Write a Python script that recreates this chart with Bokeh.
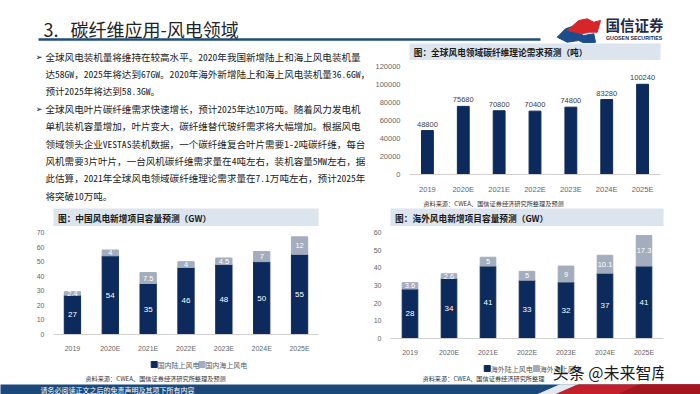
from bokeh.plotting import figure
from bokeh.models import (Range1d, FactorRange, ColumnDataSource, FixedTicker,
                          NumeralTickFormatter)
from bokeh.layouts import column, row
from bokeh.embed import file_html
from bokeh.resources import INLINE
from bokeh.core.properties import value

CJK = "Noto Sans CJK SC"
MONO_CJK = "'Noto Sans Mono CJK SC', 'Noto Sans CJK SC'"
LAT = "Liberation Sans"
NAVY = "#0C2A5B"
LIGHT = "#A3ADBD"
BAND = "#DCE4EE"
AXC = "#666666"

# ---------------- data ----------------
years = ["2019", "2020E", "2021E", "2022E", "2023E", "2024E", "2025E"]
cf_demand = [48800, 75680, 70800, 70400, 74800, 83280, 100240]
cn_onshore = [27, 54, 35, 46, 48, 50, 55]
cn_offshore = [2.4, 4, 7.5, 4, 4.5, 7, 12]
os_onshore = [28, 34, 41, 33, 32, 37, 41]
os_offshore = [3.6, 2.6, 5, 5, 9, 10.1, 17.3]
demand_ticks = [0, 20000, 40000, 60000, 80000, 100000, 120000]
cn_ticks = [0, 10, 20, 30, 40, 50, 60, 70]
os_ticks = [0, 10, 20, 30, 40, 50, 60]

slide_title = "3.\u00a0\u00a0\u00a0碳纤维应用-风电领域"
bullet1 = ["全球风电装机量将维持在较高水平。2020年我国新增陆上和海上风电装机量",
           "达58GW，2025年将达到67GW。2020年海外新增陆上和海上风电装机量36.6GW，",
           "预计2025年将达到58.3GW。"]
bullet2 = ["全球风电叶片碳纤维需求快速增长，预计2025年达10万吨。随着风力发电机",
           "单机装机容量增加，叶片变大，碳纤维替代玻纤需求将大幅增加。根据风电",
           "领域领头企业VESTAS装机数据，一个碳纤维复合叶片需要1-2吨碳纤维，每台",
           "风机需要3片叶片，一台风机碳纤维需求量在4吨左右，装机容量5MW左右，据",
           "此估算，2021年全球风电领域碳纤维理论需求量在7.1万吨左右，预计2025年",
           "将突破10万吨。"]
t1 = "图：全球风电领域碳纤维理论需求预测（吨）"
t2 = "图：中国风电新增项目容量预测（GW）"
t3 = "图：海外风电新增项目容量预测（GW）"
src1 = "资料来源：CWEA、国信证券经济研究所整理及预测"
src2 = "资料来源：CWEA、国信证券经济研究所整理及预测"
src3 = "资料来源：CWEA、国信证券经济研究所整理"
leg2 = ["国内陆上风电", "国内海上风电"]
leg3 = ["海外陆上风电", "海外海上风电"]
footer_text = "请务必阅读正文之后的免责声明及其项下所有内容"
logo_cn = "国信证券"
logo_en = "GUOSEN SECURITIES"
watermark = "头条 @未来智库"


def canvas(w, h, bg="white"):
    p = figure(width=w, height=h, x_range=Range1d(0, w), y_range=Range1d(h, 0),
               x_axis_location=None, y_axis_location=None, toolbar_location=None,
               output_backend="svg", min_border=0)
    p.outline_line_color = None
    p.grid.grid_line_color = None
    p.background_fill_color = bg
    p.border_fill_color = bg
    return p


def band(w, h, left, right, top, text):
    fw = w - left - right
    fh = h - top
    p = figure(width=w, height=h, x_range=Range1d(0, fw), y_range=Range1d(fh, 0),
               x_axis_location=None, y_axis_location=None, toolbar_location=None,
               output_backend="svg", min_border=0, min_border_left=left,
               min_border_right=right, min_border_top=top, min_border_bottom=0)
    p.outline_line_color = None
    p.grid.grid_line_color = None
    p.background_fill_color = BAND
    p.border_fill_color = "white"
    p.text(x=[5], y=[fh / 2 + 0.5], text=[text], text_font=value(CJK),
           text_font_size="8.7px", text_font_style="bold", text_color="#1A1A1A",
           text_baseline="middle", text_align="left")
    return p


def bar_fig(w, h, left, right, top, bottom, yend, ticks, fs):
    p = figure(width=w, height=h, x_range=FactorRange(*years, range_padding=0),
               y_range=Range1d(0, yend), toolbar_location=None, output_backend="svg",
               min_border=0, min_border_left=left, min_border_right=right,
               min_border_top=top, min_border_bottom=bottom)
    p.outline_line_color = None
    p.grid.grid_line_color = None
    p.background_fill_color = "white"
    p.border_fill_color = "white"
    xa = p.xaxis[0]
    xa.axis_line_color = "#D0D0D0"
    xa.major_tick_line_color = None
    xa.minor_tick_line_color = None
    xa.major_label_text_font = LAT
    xa.major_label_text_font_size = fs
    xa.major_label_text_color = AXC
    xa.major_label_standoff = 4
    ya = p.yaxis[0]
    ya.axis_line_color = None
    ya.major_tick_line_color = None
    ya.minor_tick_line_color = None
    ya.ticker = FixedTicker(ticks=ticks)
    ya.formatter = NumeralTickFormatter(format="0")
    ya.major_label_text_font = LAT
    ya.major_label_text_font_size = fs
    ya.major_label_text_color = AXC
    ya.major_label_standoff = 3
    return p


# ---------------- header (0-43) ----------------
hdr = canvas(700, 43)
hdr.text(x=[43], y=[28], text=[slide_title], text_font=value(CJK), text_font_size="18px",
         text_color="#222222", text_baseline="middle")
hdr.line(x=[38, 540], y=[39, 39], line_width=2.5, color="#1F4E79")
hdr.patch(x=[556.7, 565, 571.7, 576.7, 583.3, 593.3, 595, 585, 578.3, 566.7],
          y=[36.7, 28.3, 26, 31.7, 35, 33.3, 41.7, 43.3, 40, 41.7], color="#1B4C8C")
hdr.patch(x=[566.7, 578.3, 586.7, 593.3, 600, 596.7, 588.3, 581.7, 575],
          y=[30, 20, 18.3, 21.7, 20, 31.7, 31.7, 33.3, 31.7], color="#D7262B")
hdr.text(x=[605], y=[24], text=[logo_cn], text_font=value(CJK), text_font_size="14.5px",
         text_font_style="bold", text_color="#1E2B4A", text_baseline="middle")
hdr.text(x=[605.5], y=[37], text=[logo_en], text_font=value(LAT), text_font_size="5.3px",
         text_font_style="bold", text_color="#1E2B4A", text_baseline="middle")

# ---------------- paragraph (43-208) ----------------
txt = canvas(372, 165)
lines = bullet1 + bullet2
ys = [13 + 17.4 * i for i in range(len(lines))]
txt.text(x=[45] * len(lines), y=ys, text=lines, text_font=value(MONO_CJK),
         text_font_size="9.55px", text_color="#222222", text_baseline="middle")
txt.text(x=[35, 35], y=[ys[0], ys[len(bullet1)]], text=["➢", "➢"],
         text_font=value("DejaVu Sans"), text_font_size="8.5px", text_color="#222222",
         text_baseline="middle")

# ---------------- chart 1 ----------------
b1 = band(328, 17, 0, 30, 0, t1)
p1 = bar_fig(328, 136, 31, 40, 6, 12, 120000, demand_ticks, "7.5px")
s1 = ColumnDataSource(dict(x=years, v=cf_demand, lab=[str(v) for v in cf_demand]))
p1.vbar(x="x", top="v", width=0.33, color=NAVY, source=s1)
p1.text(x="x", y="v", text="lab", source=s1, text_font=value(LAT), text_font_size="7.5px",
        text_color="#404040", text_align="center", text_baseline="bottom", y_offset=-4)
c1 = canvas(328, 12)
c1.text(x=[18], y=[6.5], text=[src1], text_font=value(CJK), text_font_size="6.2px",
        text_color="#333333", text_baseline="middle")


# ---------------- stacked charts ----------------
def stacked(w, h, left, right, bottom, yend, ticks, on, off, bw):
    p = bar_fig(w, h, left, right, 6, bottom, yend, ticks, "7px")
    s = ColumnDataSource(dict(x=years, on=on, off=off,
                              on_mid=[a / 2 for a in on],
                              off_mid=[a + b / 2 for a, b in zip(on, off)],
                              on_lab=[f"{a:g}" for a in on],
                              off_lab=[f"{b:g}" for b in off]))
    p.vbar_stack(["on", "off"], x="x", width=bw, color=[NAVY, LIGHT], source=s)
    p.text(x="x", y="on_mid", text="on_lab", source=s, text_font=value(LAT),
           text_font_size="8px", text_color="white", text_align="center",
           text_baseline="middle")
    p.text(x="x", y="off_mid", text="off_lab", source=s, text_font=value(LAT),
           text_font_size="7.5px", text_color="white", text_align="center",
           text_baseline="middle")
    return p


def legend_canvas(w, h, names, sq_x, ly, srctxt, sx, sy):
    c = canvas(w, h)
    c.scatter(x=sq_x, y=[ly, ly], marker="square", size=6, color=[NAVY, LIGHT])
    c.text(x=[v + 4.5 for v in sq_x], y=[ly, ly], text=names, text_font=value(CJK),
           text_font_size="7px", text_color="#595959", text_baseline="middle")
    c.text(x=[sx], y=[sy], text=[srctxt], text_font=value(CJK), text_font_size="6.2px",
           text_color="#333333", text_baseline="middle")
    return c


b2 = band(350, 18, 36, 17, 0, t2)
p2 = stacked(350, 128, 53, 32, 14, 70, cn_ticks, cn_onshore, cn_offshore, 0.43)
l2 = legend_canvas(350, 29, leg2, [133, 196], 10, src2, 42, 23.5)

b3 = band(350, 18, 23, 30, 0, t3)
p3 = stacked(350, 132, 40, 37, 13, 60, os_ticks, os_onshore, os_offshore, 0.4)
l3 = legend_canvas(350, 25, leg3, [124, 187], 10, src3, 41, 19.5)
l3.text(x=[208], y=[13], text=[watermark], text_font=value(CJK), text_font_size="16px",
        text_color="#1A1A1A", text_baseline="middle")

# ---------------- footer (383-394) ----------------
ft = canvas(700, 11, "#1B4A7A")
ft.patch(x=[560, 578, 553, 535], y=[0, 0, 11, 11], color="#E4E9F0")
ft.patch(x=[578, 700, 700, 553], y=[0, 0, 11, 11], color="#C2202B")
ft.patch(x=[640, 700, 700, 615], y=[0, 0, 11, 11], color="#A3151F")
ft.text(x=[40], y=[5.5], text=[footer_text], text_font=value(CJK), text_font_size="7px",
        text_color="white", text_baseline="middle")

layout = column(hdr,
                row(txt, column(b1, p1, c1)),
                row(column(b2, p2, l2), column(b3, p3, l3)),
                ft)

open("out.html", "w").write(file_html(layout, INLINE))
